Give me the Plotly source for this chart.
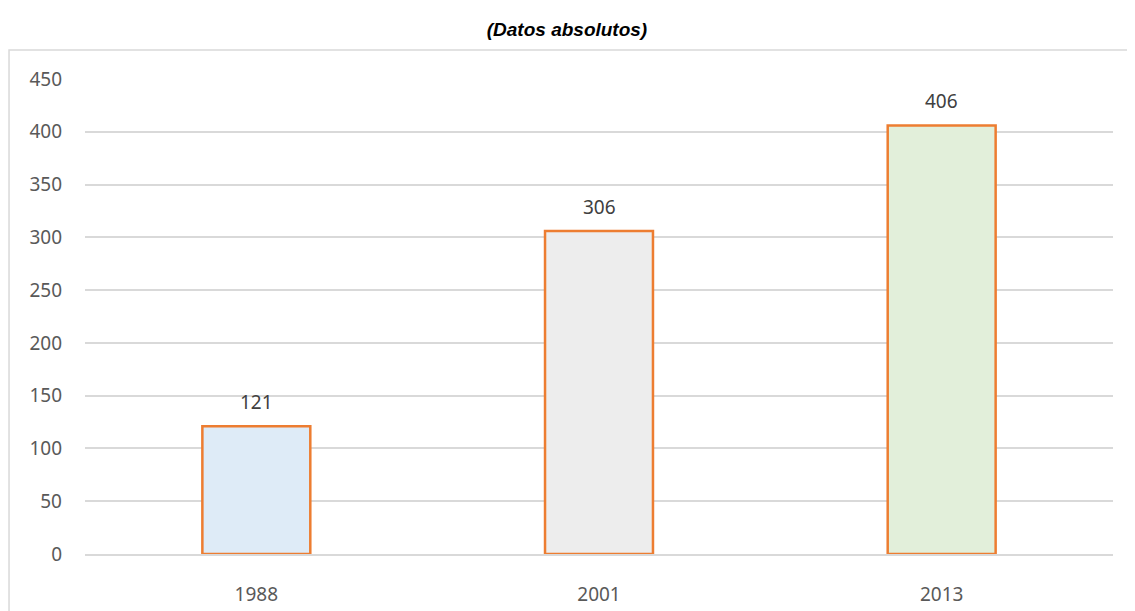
import plotly.graph_objects as go

# datos
years = ["1988", "2001", "2013"]
values = [121, 306, 406]
fills = ["#DEEBF7", "#EDEDED", "#E2EFDA"]

fig = go.Figure()
fig.add_trace(go.Bar(
    x=years, y=values, width=0.315,
    marker=dict(color=fills, line=dict(color="#ED7D31", width=2.5)),
    hoverinfo="x+y",
))

# etiquetas de datos encima de cada barra (x = posicion de la categoria)
for i, v in enumerate(values):
    fig.add_annotation(x=i, y=v, text=str(v), showarrow=False, yanchor="bottom", yshift=9,
                       font=dict(family="Noto Sans, Liberation Sans", size=19, color="#404040"))

# marco del grafico
fig.add_shape(type="rect", xref="paper", yref="paper", x0=-0.0739, x1=1.2, y0=1.061, y1=-0.3,
              line=dict(color="#D9D9D9", width=1.5), layer="below")

# la pagina deja 8px de margen del navegador, se compensa aqui
fig.update_layout(
    width=1135, height=611,
    margin=dict(l=77, r=30, t=71, b=65),
    paper_bgcolor="white", plot_bgcolor="white",
    title=dict(text="<b><i>(Datos absolutos)</i></b>", x=0.4925, xanchor="center", y=0.965, yanchor="middle",
               font=dict(family="Liberation Sans, Arial", size=19, color="#000000")),
    showlegend=False,
)
fig.update_yaxes(range=[0, 450], dtick=50, showgrid=True, gridcolor="#D9D9D9", gridwidth=1.5,
                 zeroline=False, showline=False, ticks="", ticklabelstandoff=22, automargin=False,
                 tickfont=dict(family="Noto Sans, Liberation Sans", size=19, color="#595959"))
fig.update_xaxes(type="category", range=[-0.5, 2.5], showgrid=False, showline=True,
                 linecolor="#D9D9D9", linewidth=1.5, ticks="", ticklabelstandoff=22, automargin=False,
                 tickfont=dict(family="Noto Sans, Liberation Sans", size=19, color="#595959"))

fig.write_html("out.html")
